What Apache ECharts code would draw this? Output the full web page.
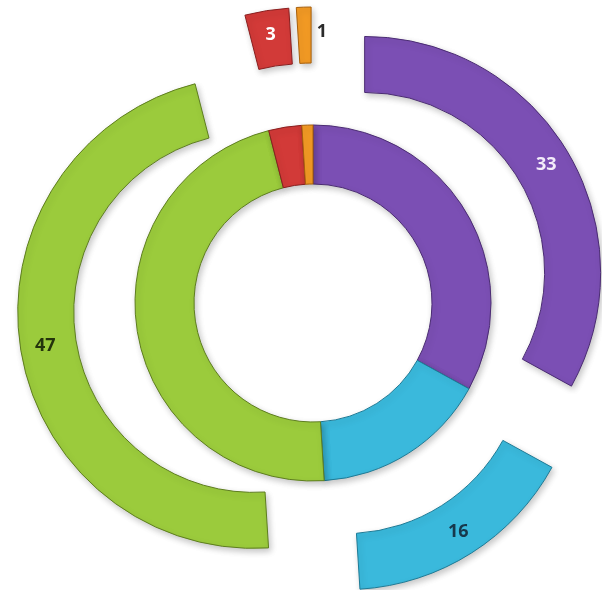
<!DOCTYPE html>
<html>
<head>
<meta charset="utf-8">
<style>
  html, body { margin: 0; padding: 0; background: #ffffff; }
  #chart { width: 602px; height: 590px; }
</style>
<script src="https://cdn.jsdelivr.net/npm/echarts@6/dist/echarts.min.js"></script>
</head>
<body>
<div id="chart"></div>
<script>
// Slice categories in clockwise order from 12 o'clock
var categories = ['A', 'B', 'C', 'D', 'E'];
// Values shown on the exploded outer ring and the solid inner ring
var outerValues = [33, 16, 47, 3, 1];
var innerValues = [33, 16, 47, 3, 1];

var faceColors   = ['#7b4fb4', '#3ab9dc', '#9bcb3c', '#d23a38', '#f29a24'];
var edgeColors   = ['#4b2c73', '#1e7b96', '#5e7e1f', '#8a1f1f', '#a8600c'];
var labelColors  = ['#f3ecfa', '#17384c', '#24340c', '#ffffff', '#2b2b2b'];

function makeData(values, withLabels) {
  return values.map(function (v, i) {
    var item = {
      name: categories[i],
      value: v,
      itemStyle: {
        color: faceColors[i],
        borderColor: edgeColors[i],
        borderWidth: 1
      }
    };
    if (withLabels) {
      item.selected = true;
      item.label = {
        show: true,
        position: 'inside',
        formatter: '{c}',
        color: labelColors[i],
        fontFamily: 'Open Sans',
        fontWeight: 'bold',
        fontSize: 18
      };
      if (i === 4) {
        // the thin sliver carries its number just beside it
        item.label.padding = [0, 0, 0, 35];
      }
    }
    return item;
  });
}

var shadow = {
  shadowBlur: 6,
  shadowColor: 'rgba(0,0,0,0.22)',
  shadowOffsetX: 2,
  shadowOffsetY: 3
};

var chart = echarts.init(document.getElementById('chart'), null, { renderer: 'canvas' });
chart.setOption({
  animation: false,
  backgroundColor: '#ffffff',
  series: [
    {
      type: 'pie',
      center: [313, 303],
      radius: [119, 178],
      startAngle: 90,
      clockwise: true,
      silent: true,
      label: { show: false },
      labelLine: { show: false },
      itemStyle: shadow,
      data: makeData(innerValues, false)
    },
    {
      type: 'pie',
      center: [313, 303],
      radius: [180, 236],
      startAngle: 90,
      clockwise: true,
      selectedMode: 'multiple',
      selectedOffset: 60,
      avoidLabelOverlap: false,
      labelLine: { show: false },
      itemStyle: shadow,
      select: { itemStyle: shadow },
      emphasis: { disabled: true },
      data: makeData(outerValues, true)
    }
  ]
});
</script>
</body>
</html>
